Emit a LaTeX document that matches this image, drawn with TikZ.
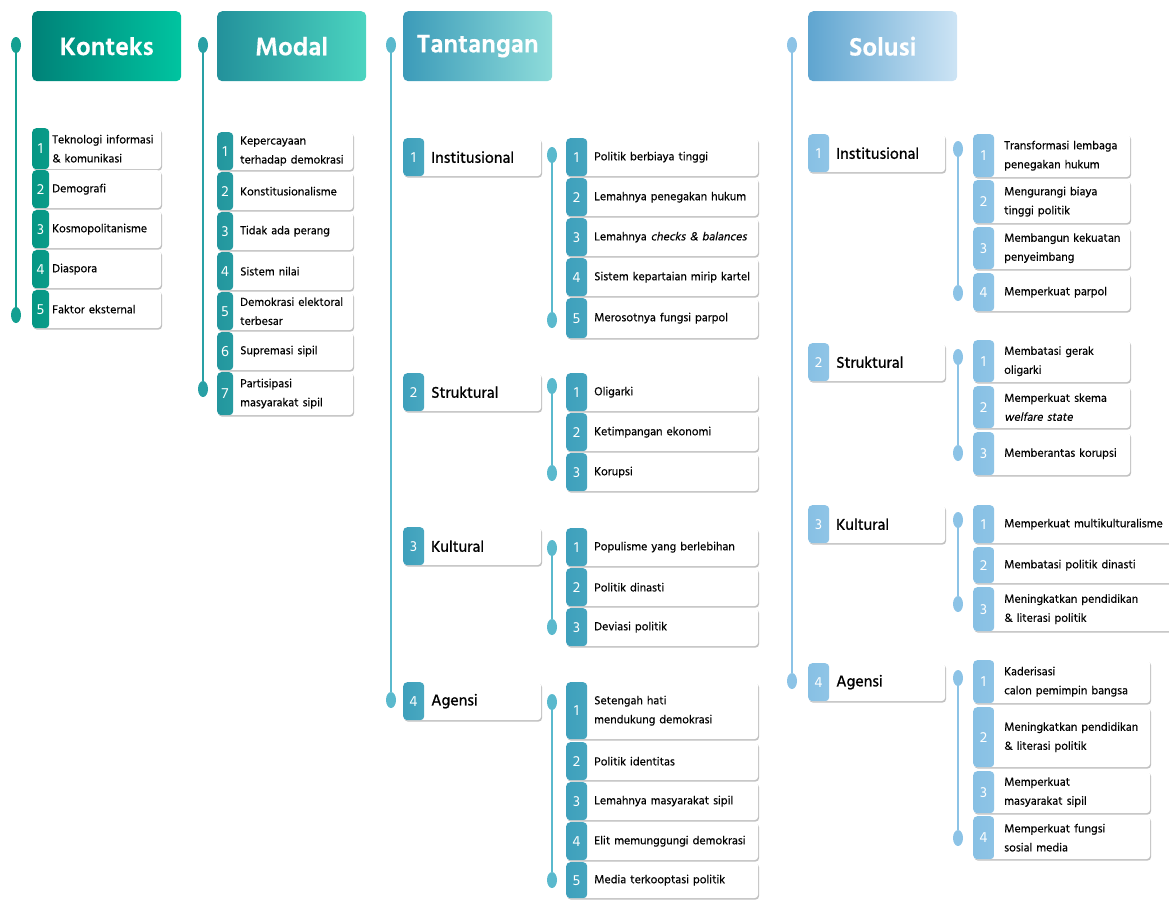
\documentclass[tikz,border=0pt]{standalone}
\usepackage{fontspec}
\setmainfont{Hind Siliguri}[FakeBold=0.4]
\newfontfamily\slfont{Hind Siliguri}[FakeSlant=0.2, FakeBold=0.4]
\newfontfamily\catfont{Hind Siliguri}[FakeBold=1.2]
\newfontfamily\numfont{Hind Siliguri}
\usetikzlibrary{shapes.geometric,shadows}

\definecolor{kHeadL}{RGB}{0,130,120}
\definecolor{kHeadR}{RGB}{0,196,160}
\definecolor{mHeadL}{RGB}{35,145,155}
\definecolor{mHeadR}{RGB}{75,212,192}
\definecolor{tHeadL}{RGB}{60,155,185}
\definecolor{tHeadR}{RGB}{142,220,218}
\definecolor{sHeadL}{RGB}{95,165,208}
\definecolor{sHeadR}{RGB}{205,228,245}

\definecolor{kTabL}{RGB}{5,150,132}
\definecolor{kTabR}{RGB}{40,192,165}
\definecolor{mTabL}{RGB}{35,150,158}
\definecolor{mTabR}{RGB}{70,200,188}
\definecolor{tTabL}{RGB}{62,160,188}
\definecolor{tTabR}{RGB}{135,212,216}
\definecolor{sTabL}{RGB}{135,192,228}
\definecolor{sTabR}{RGB}{192,224,244}

\definecolor{kLine}{RGB}{20,160,145}
\definecolor{mLine}{RGB}{40,160,165}
\definecolor{tLine}{RGB}{90,185,205}
\definecolor{sLine}{RGB}{140,195,230}

\begin{document}
\begin{tikzpicture}[x=1pt, y=-1pt, every node/.style={inner sep=0pt},
  head/.style={rounded corners=5pt, minimum width=149, minimum height=70, anchor=north west,
    text=white, font=\fontsize{26}{30}\selectfont\bfseries},
  card/.style={rounded corners=4pt, fill=white, anchor=north west, inner xsep=2pt, align=left,
    font=\fontsize{12}{19}\selectfont,
    drop shadow={shadow xshift=1pt, shadow yshift=-1.5pt, opacity=.35, fill=black!70}},
  tab/.style n args={4}{path picture={
    \fill[left color=#2, right color=#3] (path picture bounding box.south west)
      rectangle ([xshift=#1]path picture bounding box.north west);},
    label={[text=white, font=\numfont\fontsize{15}{15}\selectfont, anchor=center, xshift=#1/2]west:#4}},
  kItem/.style={card, minimum width=129, text width=125, minimum height=38,
    tab={17}{kTabL}{kTabR}{#1}, execute at begin node={\leftskip=18pt}},
  mItem/.style={card, minimum width=136, text width=132, minimum height=38,
    tab={16}{mTabL}{mTabR}{#1}, execute at begin node={\leftskip=21pt}},
  tItem/.style={card, minimum width=192, text width=188, minimum height=38,
    tab={21}{tTabL}{tTabR}{#1}, execute at begin node={\leftskip=26pt}},
  sItem/.style={card, minimum width=157, text width=153, minimum height=42,
    tab={21}{sTabL}{sTabR}{#1}, execute at begin node={\leftskip=29pt}},
  tCat/.style={card, minimum width=138, text width=134, minimum height=38,
    font=\catfont\fontsize{16}{19}\selectfont,
    tab={21}{tTabL}{tTabR}{#1}, execute at begin node={\leftskip=26pt}},
  sCat/.style={card, minimum width=137, text width=133, minimum height=38,
    font=\catfont\fontsize{16}{19}\selectfont,
    tab={21}{sTabL}{sTabR}{#1}, execute at begin node={\leftskip=26pt}},
  dot/.style={ellipse, minimum width=10, minimum height=16},
  tl/.style={line width=2pt}]

\useasboundingbox (0,0) rectangle (1169,900);

% Konteks
\node[head, left color=kHeadL, right color=kHeadR] (konteks) at (32,11) {Konteks};
\node[dot, fill=kLine] (kTop) at (16,45) {};
\node[dot, fill=kLine] (kBot) at (16,315) {};
\draw[tl, kLine] (kTop) -- (kBot);

\node[kItem=1, minimum height=41] (k1) at (32,128) {Teknologi informasi\\\& komunikasi};
\node[kItem=2] (k2) at (32,170) {Demografi};
\node[kItem=3] (k3) at (32,210) {Kosmopolitanisme};
\node[kItem=4] (k4) at (32,250) {Diaspora};
\node[kItem=5] (k5) at (32,290) {Faktor eksternal};

% Modal
\node[head, left color=mHeadL, right color=mHeadR] (modal) at (217,11) {Modal};
\node[dot, fill=mLine] (mTop) at (203,45) {};
\node[dot, fill=mLine] (mBot) at (203,389) {};
\draw[tl, mLine] (mTop) -- (mBot);

\node[mItem=1] (m1) at (217,132) {Kepercayaan\\terhadap demokrasi};
\node[mItem=2] (m2) at (217,172) {Konstitusionalisme};
\node[mItem=3] (m3) at (217,212) {Tidak ada perang};
\node[mItem=4] (m4) at (217,252) {Sistem nilai};
\node[mItem=5] (m5) at (217,292) {Demokrasi elektoral\\terbesar};
\node[mItem=6] (m6) at (217,332) {Supremasi sipil};
\node[mItem=7, minimum height=43] (m7) at (217,372) {Partisipasi\\masyarakat sipil};

% Tantangan
\node[head, left color=tHeadL, right color=tHeadR] (tantangan) at (403,11) {Tantangan};
\node[dot, fill=tLine] (tTop) at (391,45) {};
\node[dot, fill=tLine] (tBot) at (391,700) {};
\draw[tl, tLine] (tTop) -- (tBot);

\node[tCat=1] (tInst) at (403,138) {Institusional};
\node[tCat=2] (tStruk) at (403,373) {Struktural};
\node[tCat=3] (tKult) at (403,527) {Kultural};
\node[tCat=4] (tAgen) at (403,682) {Agensi};

\node[dot, fill=tLine] (tiTop) at (552,155) {};
\node[dot, fill=tLine] (tiBot) at (552,320) {};
\draw[tl, tLine] (tiTop) -- (tiBot);
\node[tItem=1] (ti1) at (566,138) {Politik berbiaya tinggi};
\node[tItem=2] (ti2) at (566,178) {Lemahnya penegakan hukum};
\node[tItem=3] (ti3) at (566,218) {Lemahnya {\slfont checks \& balances}};
\node[tItem=4] (ti4) at (566,258) {Sistem kepartaian mirip kartel};
\node[tItem=5, minimum height=40] (ti5) at (566,298) {Merosotnya fungsi parpol};

\node[dot, fill=tLine] (tsTop) at (552,386) {};
\node[dot, fill=tLine] (tsBot) at (552,473) {};
\draw[tl, tLine] (tsTop) -- (tsBot);
\node[tItem=1] (ts1) at (566,373) {Oligarki};
\node[tItem=2] (ts2) at (566,413) {Ketimpangan ekonomi};
\node[tItem=3] (ts3) at (566,453) {Korupsi};

\node[dot, fill=tLine] (tkTop) at (552,548) {};
\node[dot, fill=tLine] (tkBot) at (552,627) {};
\draw[tl, tLine] (tkTop) -- (tkBot);
\node[tItem=1] (tk1) at (566,528) {Populisme yang berlebihan};
\node[tItem=2] (tk2) at (566,568) {Politik dinasti};
\node[tItem=3] (tk3) at (566,608) {Deviasi politik};

\node[dot, fill=tLine] (taTop) at (552,702) {};
\node[dot, fill=tLine] (taBot) at (552,880) {};
\draw[tl, tLine] (taTop) -- (taBot);
\node[tItem=1, minimum height=57] (ta1) at (566,682) {Setengah hati\\mendukung demokrasi};
\node[tItem=2] (ta2) at (566,742) {Politik identitas};
\node[tItem=3] (ta3) at (566,782) {Lemahnya masyarakat sipil};
\node[tItem=4] (ta4) at (566,822) {Elit memunggungi demokrasi};
\node[tItem=5, minimum height=36] (ta5) at (566,862) {Media terkooptasi politik};

% Solusi
\node[head, left color=sHeadL, right color=sHeadR] (solusi) at (808,11) {Solusi};
\node[dot, fill=sLine] (sTop) at (792,45) {};
\node[dot, fill=sLine] (sBot) at (792,681) {};
\draw[tl, sLine] (sTop) -- (sBot);

\node[sCat=1] (sInst) at (808,134) {Institusional};
\node[sCat=2] (sStruk) at (808,343) {Struktural};
\node[sCat=3] (sKult) at (808,505) {Kultural};
\node[sCat=4] (sAgen) at (808,663) {Agensi};

\node[dot, fill=sLine] (siTop) at (958,149) {};
\node[dot, fill=sLine] (siBot) at (958,293) {};
\draw[tl, sLine] (siTop) -- (siBot);
\node[sItem=1, minimum height=43] (si1) at (973,134) {Transformasi lembaga\\penegakan hukum};
\node[sItem=2, minimum height=43] (si2) at (973,180) {Mengurangi biaya\\tinggi politik};
\node[sItem=3] (si3) at (973,227) {Membangun kekuatan\\penyeimbang};
\node[sItem=4, minimum height=38] (si4) at (973,273) {Memperkuat parpol};

\node[dot, fill=sLine] (ssTop) at (958,357) {};
\node[dot, fill=sLine] (ssBot) at (958,453) {};
\draw[tl, sLine] (ssTop) -- (ssBot);
\node[sItem=1] (ss1) at (973,340) {Membatasi gerak\\oligarki};
\node[sItem=2] (ss2) at (973,386) {Memperkuat skema\\{\slfont welfare state}};
\node[sItem=3, minimum height=43] (ss3) at (973,432) {Memberantas korupsi};

\node[dot, fill=sLine] (skTop) at (958,520) {};
\node[dot, fill=sLine] (skBot) at (958,604) {};
\draw[tl, sLine] (skTop) -- (skBot);
\node[sItem=1, minimum width=205, text width=201, minimum height=38] (sk1) at (973,505) {Memperkuat multikulturalisme};
\node[sItem=2, minimum width=205, text width=201, minimum height=36] (sk2) at (973,547) {Membatasi politik dinasti};
\node[sItem=3, minimum width=205, text width=201, minimum height=44] (sk3) at (973,587) {Meningkatkan pendidikan\\\& literasi politik};

\node[dot, fill=sLine] (saTop) at (958,678) {};
\node[dot, fill=sLine] (saBot) at (958,838) {};
\draw[tl, sLine] (saTop) -- (saBot);
\node[sItem=1, minimum width=177, text width=173, minimum height=43] (sa1) at (973,660) {Kaderisasi\\calon pemimpin bangsa};
\node[sItem=2, minimum width=177, text width=173, minimum height=60] (sa2) at (973,707) {Meningkatkan pendidikan\\\& literasi politik};
\node[sItem=3, minimum width=177, text width=173] (sa3) at (973,771) {Memperkuat\\masyarakat sipil};
\node[sItem=4, minimum width=177, text width=173, minimum height=43] (sa4) at (973,816) {Memperkuat fungsi\\sosial media};

\end{tikzpicture}
\end{document}
